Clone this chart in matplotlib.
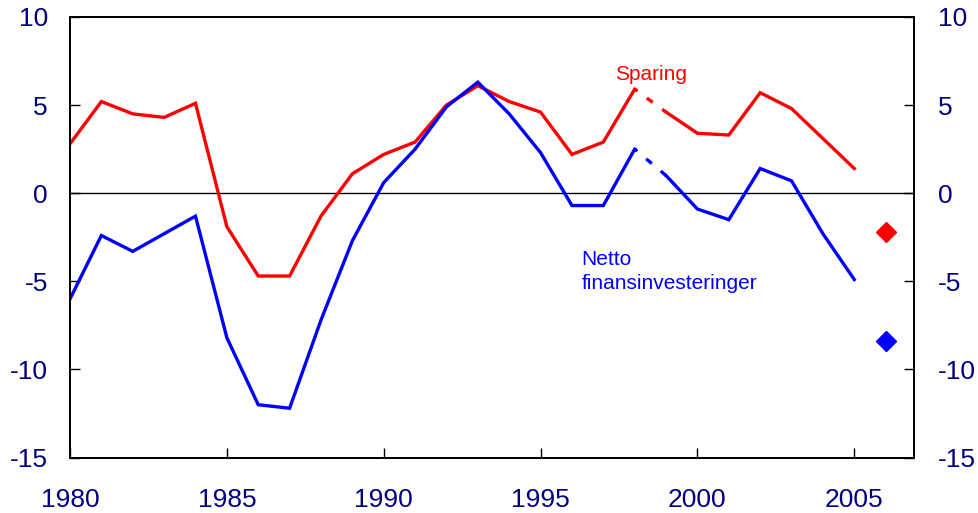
import matplotlib

matplotlib.use("Agg")
import matplotlib.pyplot as plt

plt.rcParams["font.family"] = ["Liberation Sans", "DejaVu Sans"]
plt.rcParams["axes.unicode_minus"] = False

YEARS = list(range(1980, 2006))
SPARING = [2.8, 5.2, 4.5, 4.3, 5.1, -1.9, -4.7, -4.7, -1.3, 1.1,
           2.2, 2.9, 5.0, 6.1, 5.2, 4.6, 2.2, 2.9, 5.9, 4.6,
           3.4, 3.3, 5.7, 4.8, 3.1, 1.4]
NETTO = [-6.0, -2.4, -3.3, -2.3, -1.3, -8.2, -12.0, -12.2, -7.2, -2.7,
         0.6, 2.5, 4.9, 6.3, 4.5, 2.3, -0.7, -0.7, 2.5, 1.0,
         -0.9, -1.5, 1.4, 0.7, -2.3, -4.9]
# projections shown as diamonds
PROJ_YEAR = 2006
SPARING_PROJ = -2.2
NETTO_PROJ = -8.4
BREAK_YEAR = 1998  # dashed between 1998 and 1999

RED = "#ff0000"
BLUE = "#0000ff"
NAVY = "#000080"

fig = plt.figure(figsize=(9.79, 5.13), dpi=100)
ax = fig.add_axes([0.0715, 0.108, 0.862, 0.859])

i = YEARS.index(BREAK_YEAR)
for vals, col in ((SPARING, RED), (NETTO, BLUE)):
    ax.plot(YEARS[:i + 1], vals[:i + 1], color=col, lw=2.4, solid_joinstyle="miter")
    ax.plot(YEARS[i:i + 2], vals[i:i + 2], color=col, lw=2.4,
            linestyle=(1.2, (2.2, 3.5)), dash_capstyle="butt")
    ax.plot(YEARS[i + 1:], vals[i + 1:], color=col, lw=2.4, solid_joinstyle="miter")

ax.plot([PROJ_YEAR], [SPARING_PROJ], marker="D", color=RED, ms=10, ls="none")
ax.plot([PROJ_YEAR], [NETTO_PROJ], marker="D", color=BLUE, ms=10, ls="none")

ax.axhline(0, color="black", lw=1.0, zorder=0)

ax.text(1997.38, 6.42, "Sparing", color=RED, fontsize=15, ha="left", va="baseline")
ax.text(1996.3, -3.2, "Netto\nfinansinvesteringer", color=BLUE, fontsize=15,
        ha="left", va="top", linespacing=1.35)

ax.set_xlim(1980, 2006.9)
ax.set_ylim(-15, 10)
ax.set_xticks(range(1980, 2006, 5))
ax.set_yticks(range(-15, 11, 5))

ax2 = ax.twinx()
ax2.set_ylim(-15, 10)
ax2.set_yticks(range(-15, 11, 5))

for a in (ax, ax2):
    for s in a.spines.values():
        s.set_linewidth(1.3)
    a.tick_params(direction="in", length=7, width=1.0, labelsize=19,
                  labelcolor=NAVY, color="black")
ax.tick_params(axis="y", pad=16)
ax.tick_params(axis="x", pad=22)
ax2.tick_params(axis="y", pad=17)

fig.savefig("out.png", dpi=100)
